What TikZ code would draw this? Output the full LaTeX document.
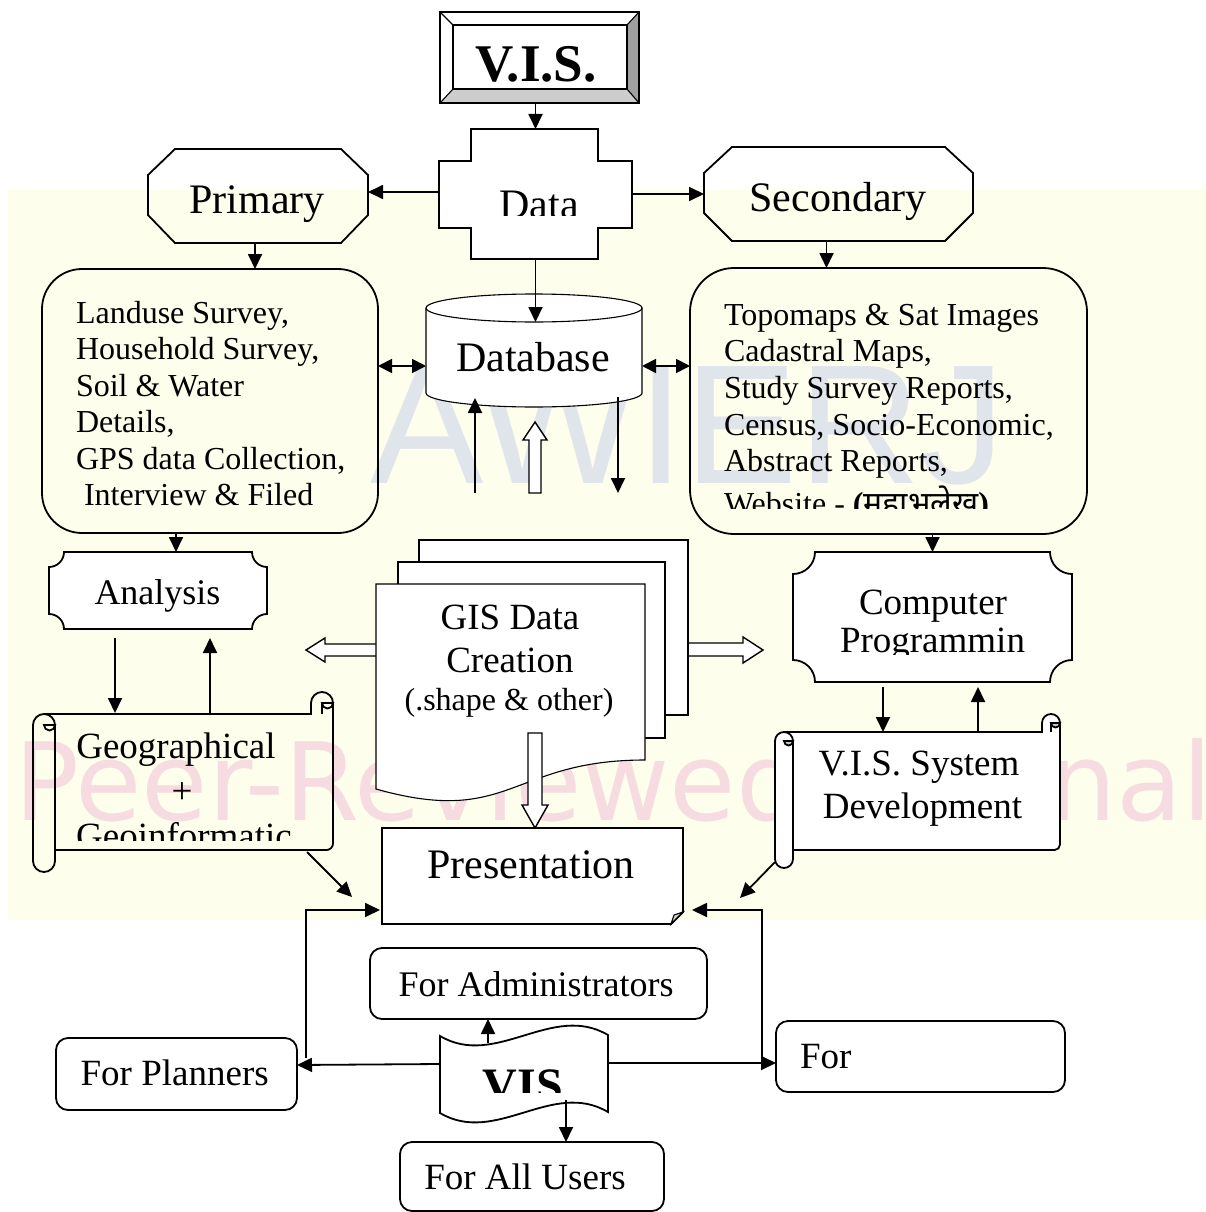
\documentclass[tikz,border=0pt]{standalone}
\usepackage{fontspec}
\setmainfont{Liberation Serif}
\newfontfamily\devafont[Script=Devanagari]{Noto Sans}
\newfontfamily\wmfont{DejaVu Sans}
\newfontfamily\wmsans{Liberation Sans}
\usetikzlibrary{arrows.meta,calc}
\newcommand\fsz[1]{\fontsize{#1}{#1}\selectfont}
\definecolor{cream}{RGB}{254,254,236}
\definecolor{wmpink}{RGB}{246,220,224}
\definecolor{wmblue}{RGB}{224,229,236}
\definecolor{bevd}{RGB}{160,160,160}
\definecolor{bevl}{RGB}{205,205,205}
\tikzset{
  hold/.style={inner sep=0pt, outer sep=0pt, draw=none, rectangle},
  txt/.style={inner sep=0pt, outer sep=0pt, anchor=base},
  tl/.style={inner sep=0pt, outer sep=0pt, anchor=base west},
  bord/.style={line width=1.8pt, line join=miter},
  thin1/.style={line width=1.1pt, line join=miter},
  arr/.style={line width=1.8pt, -{Triangle[length=15pt,width=14pt]}},
  darr/.style={line width=1.8pt, {Triangle[length=14pt,width=14pt]}-{Triangle[length=14pt,width=14pt]}},
  block/.style={line width=1.4pt, fill=white, line join=miter},
}
% horizontal scroll: #1 x1, #2 body top, #3 x2, #4 body bottom, #5 roll radius, #6 fill, #7 curl fill
\newcommand\hscroll[7]{%
\pgfmathsetmacro\hsXa{#1}\pgfmathsetmacro\hsYa{#2}\pgfmathsetmacro\hsXb{#3}\pgfmathsetmacro\hsYb{#4}\pgfmathsetmacro\hsR{#5}%
\pgfmathsetmacro\hsK{0.5523*\hsR}\pgfmathsetmacro\hsH{\hsR/2}\pgfmathsetmacro\hsQ{0.5523*\hsR/2}%
\pgfmathsetmacro\hsLc{\hsXa+\hsR}\pgfmathsetmacro\hsLr{\hsXa+2*\hsR}%
\pgfmathsetmacro\hsRc{\hsXb-\hsR}\pgfmathsetmacro\hsRl{\hsXb-2*\hsR}%
\pgfmathsetmacro\hsRt{\hsYa-\hsR}\pgfmathsetmacro\hsRtop{\hsYa-2*\hsR}%
\pgfmathsetmacro\hsLt{\hsYa+\hsR}\pgfmathsetmacro\hsLb{\hsYb+\hsR}\pgfmathsetmacro\hsLbot{\hsYb+2*\hsR}%
\pgfmathsetmacro\hsC{0.6*\hsR}\pgfmathsetmacro\hsCk{0.5523*0.6*\hsR}%
\path[fill=#6] (\hsLc,\hsYa) -- (\hsXb,\hsYa) -- (\hsXb,\hsYb) -- (\hsLc,\hsYb) -- cycle;
\path[fill=#6] (\hsRl,\hsYa) -- (\hsRl,\hsRt) .. controls (\hsRl,\hsRt-\hsK) and (\hsRc-\hsK,\hsRtop) .. (\hsRc,\hsRtop) .. controls (\hsRc+\hsK,\hsRtop) and (\hsXb,\hsRt-\hsK) .. (\hsXb,\hsRt) -- (\hsXb,\hsYa) -- cycle;
\draw[bord] (\hsLc,\hsYa) -- (\hsRl,\hsYa) -- (\hsRl,\hsRt) .. controls (\hsRl,\hsRt-\hsK) and (\hsRc-\hsK,\hsRtop) .. (\hsRc,\hsRtop) .. controls (\hsRc+\hsK,\hsRtop) and (\hsXb,\hsRt-\hsK) .. (\hsXb,\hsRt) -- (\hsXb,\hsYb-\hsC) .. controls (\hsXb,\hsYb-\hsC+\hsCk) and (\hsXb-\hsC+\hsCk,\hsYb) .. (\hsXb-\hsC,\hsYb) -- (\hsLr,\hsYb);
\draw[bord] (\hsRc,\hsRt) -- (\hsRc,\hsYa);
\filldraw[bord, fill=#7] (\hsRc,\hsRt) .. controls (\hsRc,\hsRt+\hsQ) and (\hsRc+\hsH-\hsQ,\hsRt+\hsH) .. (\hsRc+\hsH,\hsRt+\hsH) .. controls (\hsRc+\hsH+\hsQ,\hsRt+\hsH) and (\hsXb,\hsRt+\hsQ) .. (\hsXb,\hsRt) -- cycle;
\filldraw[bord, fill=#6] (\hsLr,\hsLt) -- (\hsLr,\hsLb) .. controls (\hsLr,\hsLb+\hsK) and (\hsLc+\hsK,\hsLbot) .. (\hsLc,\hsLbot) .. controls (\hsLc-\hsK,\hsLbot) and (\hsXa,\hsLb+\hsK) .. (\hsXa,\hsLb) -- (\hsXa,\hsLt) .. controls (\hsXa,\hsLt-\hsK) and (\hsLc-\hsK,\hsYa) .. (\hsLc,\hsYa) .. controls (\hsLc+\hsK,\hsYa) and (\hsLr,\hsLt-\hsK) .. (\hsLr,\hsLt) -- cycle;
\filldraw[bord, fill=#7] (\hsLc,\hsLt) .. controls (\hsLc,\hsLt+\hsQ) and (\hsLc+\hsH-\hsQ,\hsLt+\hsH) .. (\hsLc+\hsH,\hsLt+\hsH) .. controls (\hsLc+\hsH+\hsQ,\hsLt+\hsH) and (\hsLr,\hsLt+\hsQ) .. (\hsLr,\hsLt) -- cycle;
}
\begin{document}
\begin{tikzpicture}[x=1pt,y=-1pt]
\useasboundingbox (0,0) rectangle (1206,1212);
\fill[white] (0,0) rectangle (1206,1212);
% watermark
\fill[cream] (8,190) rectangle (1206,920);
\begin{scope}
  \clip (8,190) rectangle (1206,920);
  \node[tl, font=\wmsans\fsz{170}, text=wmblue] (wmA) at (370,483) {AWIERJ};
  \node[tl, font=\wmfont\fsz{108}, text=wmpink] (wmP) at (14,820) {Peer-Reviewed Journal};
\end{scope}

% holder nodes (extent of each shape)
\node[hold, minimum width=199pt, minimum height=91pt] (vis) at (539.5,57.5) {};
\node[hold, minimum width=193pt, minimum height=130pt] (data) at (535.5,194) {};
\node[hold, minimum width=220pt, minimum height=94pt] (prim) at (258,196) {};
\node[hold, minimum width=269pt, minimum height=94pt] (sec) at (838.5,194) {};
\node[hold, minimum width=336pt, minimum height=264pt] (lbox) at (210,401) {};
\node[hold, minimum width=397pt, minimum height=266pt] (rbox) at (888.5,401) {};
\node[hold, minimum width=216pt, minimum height=113pt] (db) at (534,350.5) {};
\node[hold, minimum width=218pt, minimum height=77pt] (ana) at (158,590.5) {};
\node[hold, minimum width=300pt, minimum height=136pt] (geo) at (183,782) {};
\node[hold, minimum width=312pt, minimum height=260pt] (gis) at (532,670) {};
\node[hold, minimum width=301pt, minimum height=96pt] (pres) at (532.5,876) {};
\node[hold, minimum width=279pt, minimum height=130pt] (comp) at (932.5,617) {};
\node[hold, minimum width=285pt, minimum height=118pt] (vsd) at (917.5,791) {};
\node[hold, minimum width=337pt, minimum height=71pt] (adm) at (538.5,983.5) {};
\node[hold, minimum width=241pt, minimum height=72pt] (plan) at (176.5,1074) {};
\node[hold, minimum width=289pt, minimum height=71pt] (forr) at (920.5,1056.5) {};
\node[hold, minimum width=264pt, minimum height=69pt] (all) at (532,1176.5) {};
\node[hold, minimum width=168pt, minimum height=96pt] (wave) at (524,1074) {};
\coordinate (u1) at (475,493);
\coordinate (d1) at (618,493);
\coordinate (bl) at (306,1058);
\coordinate (br) at (762,1058);

% V.I.S. bevel frame
\fill[white] (440,12) -- (639,12) -- (627,25) -- (453,25) -- cycle;
\fill[white] (440,12) -- (453,25) -- (453,89) -- (440,103) -- cycle;
\fill[bevd] (639,12) -- (639,103) -- (627,89) -- (627,25) -- cycle;
\fill[bevl] (440,103) -- (639,103) -- (627,89) -- (453,89) -- cycle;
\fill[white] (453,25) rectangle (627,89);
\draw[thin1] (440,12) rectangle (639,103);
\draw[thin1] (453,25) rectangle (627,89);
\draw[thin1] (440,12) -- (453,25) (639,12) -- (627,25) (639,103) -- (627,89) (440,103) -- (453,89);
\node[txt, font=\bfseries\fsz{53}] (tvis) at (536,82) {V.I.S.};

% Data cross
\filldraw[thin1, fill=white] (471,129) -- (598,129) -- (598,161) -- (632,161) -- (632,228) -- (598,228) -- (598,259) -- (471,259) -- (471,228) -- (439,228) -- (439,161) -- (471,161) -- cycle;
\begin{scope}
  \clip (439,129) rectangle (632,215);
  \node[txt, font=\fsz{42}] (tdata) at (539,218) {Data};
\end{scope}

% Primary / Secondary octagons
\draw[bord] (175,149) -- (341,149) -- (368,175) -- (368,215) -- (341,243) -- (175,243) -- (148,215) -- (148,175) -- cycle;
\node[txt, font=\fsz{42}] (tprim) at (257,213) {Primary};
\draw[bord] (732,147) -- (945,147) -- (973,173) -- (973,213) -- (945,241) -- (732,241) -- (704,213) -- (704,173) -- cycle;
\node[txt, font=\fsz{42}] (tsec) at (838,211) {Secondary};

% left and right rounded boxes
\draw[bord, rounded corners=40pt] (42,269) rectangle (378,533);
\node[tl, font=\fsz{32}] (l1) at (76,323) {Landuse Survey,};
\node[tl, font=\fsz{32}] (l2) at (76,359.5) {Household Survey,};
\node[tl, font=\fsz{32}] (l3) at (76,396) {Soil \& Water};
\node[tl, font=\fsz{32}] (l4) at (76,432.5) {Details,};
\node[tl, font=\fsz{32}] (l5) at (76,469) {GPS data Collection,};
\node[tl, font=\fsz{32}] (l6) at (84,505.5) {Interview \& Filed};

\draw[bord, rounded corners=44pt] (690,268) rectangle (1087,534);
\node[tl, font=\fsz{32}] (r1) at (724,325) {Topomaps \& Sat Images};
\node[tl, font=\fsz{32}] (r2) at (724,361.7) {Cadastral Maps,};
\node[tl, font=\fsz{32}] (r3) at (724,398.4) {Study Survey Reports,};
\node[tl, font=\fsz{32}] (r4) at (724,435.1) {Census, Socio-Economic,};
\node[tl, font=\fsz{32}] (r5) at (724,471.8) {Abstract Reports,};
\begin{scope}
  \clip (690,268) rectangle (1087,508);
  \node[tl, font=\fsz{32}] (r6) at (724,514) {Website - {\bfseries(}{\devafont\bfseries महाभूलेख}{\bfseries)}};
\end{scope}

% Database cylinder
\filldraw[thin1, fill=white] (426,308) -- (426,393) .. controls (426,400.7) and (474.4,407) .. (534,407) .. controls (593.6,407) and (642,400.7) .. (642,393) -- (642,308) .. controls (642,300.3) and (593.6,294) .. (534,294) .. controls (474.4,294) and (426,300.3) .. (426,308) -- cycle;
\draw[thin1] (426,308) .. controls (426,315.7) and (474.4,322) .. (534,322) .. controls (593.6,322) and (642,315.7) .. (642,308);
\node[txt, font=\fsz{42}] (tdb) at (533,371) {Database};

% hollow arrow up to database
\filldraw[block] (529,493) -- (529,440) -- (523,440) -- (535,422) -- (547,440) -- (541,440) -- (541,493) -- cycle;

% Analysis plaque
\filldraw[bord, fill=white] (64,552) -- (252,552) .. controls (252,560.3) and (258.7,567) .. (267,567) -- (267,614) .. controls (258.7,614) and (252,620.7) .. (252,629) -- (64,629) .. controls (64,620.7) and (57.3,614) .. (49,614) -- (49,567) .. controls (57.3,567) and (64,560.3) .. (64,552) -- cycle;
\node[txt, font=\fsz{36}] (tana) at (157.5,604) {Analysis};

% Computer plaque
\filldraw[bord, fill=white] (815,552) -- (1050,552) .. controls (1050,564.15) and (1059.85,574) .. (1072,574) -- (1072,660) .. controls (1059.85,660) and (1050,669.85) .. (1050,682) -- (815,682) .. controls (815,669.85) and (805.15,660) .. (793,660) -- (793,574) .. controls (805.15,574) and (815,564.15) .. (815,552) -- cycle;
\node[txt, font=\fsz{37}] (tcomp1) at (933,614) {Computer};
\begin{scope}
  \clip (793,552) rectangle (1072,654);
  \node[txt, font=\fsz{37}] (tcomp2) at (932.5,652) {Programmin};
\end{scope}

% scrolls
\hscroll{33}{714}{333}{850}{11}{none}{none}
\node[txt, font=\fsz{37}] (tgeo1) at (176,758) {Geographical};
\node[txt, font=\fsz{37}] (tgeo2) at (182,803) {+};
\begin{scope}
  \clip (55,714) rectangle (333,840);
  \node[txt, font=\fsz{37}] (tgeo3) at (184,848) {Geoinformatic};
\end{scope}

\hscroll{775}{732}{1060}{850}{9}{white}{gray!45}
\node[txt, font=\fsz{37}] (tvsd1) at (919,775) {V.I.S. System};
\node[txt, font=\fsz{37}] (tvsd2) at (922.5,818) {Development};

% side hollow arrows (under the pages)
\filldraw[block] (390,644) -- (325,644) -- (325,638) -- (306,650) -- (325,662) -- (325,656) -- (390,656) -- cycle;
\filldraw[block] (678,643) -- (743,643) -- (743,637) -- (763,650) -- (743,663) -- (743,656) -- (678,656) -- cycle;

% GIS pages
\filldraw[thin1, fill=white] (419,540) rectangle (688,715);
\filldraw[thin1, fill=white] (398,562) rectangle (665,738);
\filldraw[thin1, fill=white] (376,584) -- (645,584) -- (645,760) .. controls (510.5,760) and (510.5,827) .. (376,789) -- cycle;
\node[txt, font=\fsz{37}] (tgis1) at (510,629) {GIS Data};
\node[txt, font=\fsz{37}] (tgis2) at (510,672) {Creation};
\node[txt, font=\fsz{32}] (tgis3) at (509,710) {(.shape \& other)};

% Presentation
\filldraw[bord, fill=white] (382,828) -- (683,828) -- (683,912) -- (671,924) -- (382,924) -- cycle;
\filldraw[thin1, fill=gray!35] (671,924) -- (674,915) -- (683,912) -- cycle;
\node[txt, font=\fsz{42}] (tpres) at (531,878) {Presentation};

% hollow arrow down to presentation
\filldraw[block] (528,733) -- (542,733) -- (542,805) -- (548,805) -- (535,828) -- (522,805) -- (528,805) -- cycle;

% bottom boxes
\draw[bord, rounded corners=12pt] (370,948) rectangle (707,1019);
\node[txt, font=\fsz{36}] (tadm) at (536,996) {For Administrators};
\draw[bord, rounded corners=12pt] (56,1038) rectangle (297,1110);
\node[txt, font=\fsz{37}] (tplan) at (174.7,1085) {For Planners};
\draw[bord, rounded corners=12pt] (776,1021) rectangle (1065,1092);
\node[tl, font=\fsz{37}] (tfor) at (800,1068) {For};
\draw[bord, rounded corners=12pt] (400,1142) rectangle (664,1211);
\node[txt, font=\fsz{37}] (tall) at (525,1189) {For All Users};

% VIS wave
\filldraw[bord, fill=white] (440,1036) .. controls (496,1069) and (552,1002) .. (608,1035) -- (608,1112) .. controls (552,1079) and (496,1146) .. (440,1113) -- cycle;
\begin{scope}
  \clip (440,1020) rectangle (608,1092);
  \node[txt, font=\bfseries\fsz{48}] (twave) at (523,1101) {VIS};
\end{scope}

% connectors
\draw[arr] (vis.south -| data.north) -- (data.north);
\draw[arr] ($(data.west)+(0,-2)$) -- ($(prim.east)+(0,-4)$);
\draw[arr] (data.east) -- (data.east -| sec.west);
\draw[arr] ($(prim.south)+(-3,0)$) -- ($(lbox.north)+(45,0)$);
\draw[arr] ($(sec.south)+(-12,0)$) -- ($(rbox.north)+(-62,0)$);
\draw[arr] (data.south) -- ($(db.north)+(1.5,28)$);
\draw[darr] ($(lbox.east)+(0,-35)$) -- ($(db.west)+(0,15.5)$);
\draw[darr] ($(db.east)+(0,15.5)$) -- ($(rbox.west)+(0,-35)$);
\draw[arr] (u1) -- ($(db.south)+(-59,-9)$);
\draw[arr] ($(db.south)+(84,-10)$) -- (d1);
\draw[arr] ($(lbox.south)+(-34,0)$) -- ($(ana.north)+(18,0)$);
\draw[arr] ($(ana.south)+(-43,9)$) -- ($(geo.north)+(-68,-1)$);
\draw[arr] ($(geo.north)+(27,-1)$) -- ($(ana.south)+(52,9)$);
\draw[arr] (rbox.south -| comp.north) -- (comp.north);
\draw[arr] ($(comp.south)+(-49.5,5)$) -- ($(vsd.north)+(-34.5,0)$);
\draw[arr] ($(vsd.north)+(60.5,0)$) -- ($(comp.south)+(45.5,5)$);
\draw[arr] ($(geo.south east)+(-26,2)$) -- ($(pres.west)+(-30,21)$);
\draw[arr] ($(vsd.south west)+(0,12)$) -- ($(pres.east)+(57,22)$);
\draw[arr] (bl) |- ($(pres.west)+(-2,34)$);
\draw[arr] (br) |- ($(pres.east)+(9,34)$);
\draw[arr] ($(wave.west)+(0,-10)$) -- ($(plan.east)+(0,-9)$);
\draw[arr] ($(wave.east)+(0,-11)$) -- ($(forr.west)+(0,6.5)$);
\draw[arr] ($(wave.north)+(-36,17)$) -- ($(adm.south)+(-50.5,0)$);
\draw[arr] ($(wave.south)+(42,-22)$) -- ($(all.north)+(34,0)$);
\end{tikzpicture}
\end{document}
